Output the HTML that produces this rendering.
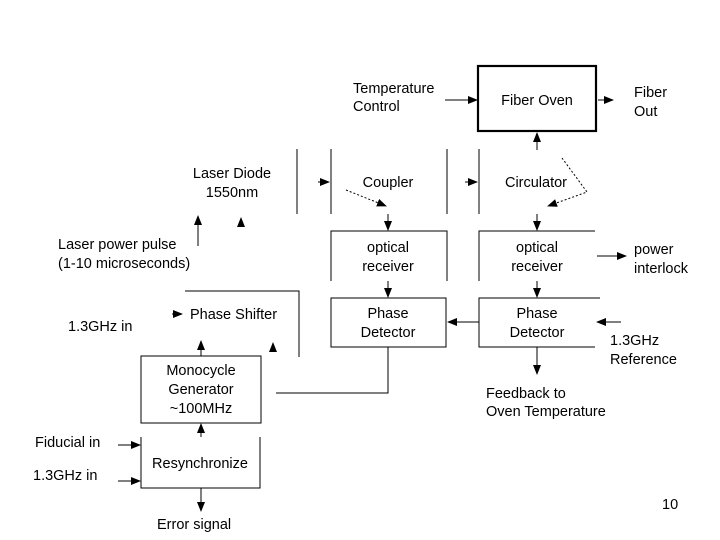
<!DOCTYPE html>
<html><head><style>body{margin:0;background:#fff}svg{display:block}text{font-family:"Liberation Sans",Arial,sans-serif;font-size:14.5px;fill:#000}</style></head>
<body>
<svg width="720" height="540" viewBox="0 0 720 540" xmlns="http://www.w3.org/2000/svg">
<defs><marker id="a" markerWidth="10" markerHeight="8" refX="9" refY="4" orient="auto" markerUnits="userSpaceOnUse"><path d="M0,0 L10,4 L0,8 z" fill="#000"/></marker></defs>
<g stroke="#000" stroke-width="1" fill="none">
<rect x="478" y="66" width="118" height="65" stroke-width="2.2"/>
<line x1="445" y1="100" x2="477" y2="100" marker-end="url(#a)"/>
<line x1="598" y1="100" x2="613" y2="100" marker-end="url(#a)"/>
<line x1="537" y1="150" x2="537" y2="133" marker-end="url(#a)"/>
<line x1="297" y1="149" x2="297" y2="214"/><line x1="331" y1="149" x2="331" y2="214"/>
<line x1="447" y1="149" x2="447" y2="214"/><line x1="479" y1="149" x2="479" y2="214"/>
<line x1="318" y1="182" x2="329" y2="182" marker-end="url(#a)"/>
<line x1="465" y1="182" x2="477" y2="182" marker-end="url(#a)"/>
<polyline points="346,190 386,206" stroke-dasharray="2,2" marker-end="url(#a)"/>
<polyline points="562,158 587,192 548,206" stroke-dasharray="2,2" marker-end="url(#a)"/>
<line x1="198" y1="246" x2="198" y2="216" marker-end="url(#a)"/>
<line x1="241" y1="226" x2="241" y2="218" marker-end="url(#a)"/>
<line x1="388" y1="214" x2="388" y2="230" marker-end="url(#a)"/>
<line x1="537" y1="214" x2="537" y2="230" marker-end="url(#a)"/>
<polyline points="331,281 331,231 447,231 447,281"/>
<polyline points="479,281 479,231 595,231"/>
<line x1="597" y1="256" x2="626" y2="256" marker-end="url(#a)"/>
<line x1="388" y1="281" x2="388" y2="297" marker-end="url(#a)"/>
<line x1="537" y1="281" x2="537" y2="297" marker-end="url(#a)"/>
<rect x="331" y="298" width="115" height="49"/>
<polyline points="600,298 479,298 479,347 595,347"/>
<line x1="479" y1="322" x2="448" y2="322" marker-end="url(#a)"/>
<line x1="621" y1="322" x2="597" y2="322" marker-end="url(#a)"/>
<line x1="537" y1="347" x2="537" y2="374" marker-end="url(#a)"/>
<polyline points="388,347 388,393 276,393"/>
<polyline points="185,291 299,291 299,357"/>
<line x1="172" y1="314" x2="182" y2="314" marker-end="url(#a)"/>
<line x1="273" y1="352" x2="273" y2="343" marker-end="url(#a)"/>
<rect x="141" y="356" width="120" height="67"/>
<line x1="201" y1="356" x2="201" y2="341" marker-end="url(#a)"/>
<line x1="201" y1="437" x2="201" y2="424" marker-end="url(#a)"/>
<polyline points="141,437 141,488 260,488 260,437"/>
<line x1="118" y1="445" x2="140" y2="445" marker-end="url(#a)"/>
<line x1="118" y1="481" x2="140" y2="481" marker-end="url(#a)"/>
<line x1="201" y1="488" x2="201" y2="511" marker-end="url(#a)"/>
</g>
<text x="353" y="93">Temperature</text><text x="353" y="111">Control</text>
<text x="537" y="105" text-anchor="middle">Fiber Oven</text>
<text x="634" y="97">Fiber</text><text x="634" y="116">Out</text>
<text x="232" y="178" text-anchor="middle">Laser Diode</text><text x="232" y="197" text-anchor="middle">1550nm</text>
<text x="388" y="187" text-anchor="middle">Coupler</text>
<text x="536" y="187" text-anchor="middle">Circulator</text>
<text x="58" y="249">Laser power pulse</text><text x="58" y="268">(1-10 microseconds)</text>
<text x="388" y="252" text-anchor="middle">optical</text><text x="388" y="271" text-anchor="middle">receiver</text>
<text x="537" y="252" text-anchor="middle">optical</text><text x="537" y="271" text-anchor="middle">receiver</text>
<text x="634" y="254">power</text><text x="634" y="273">interlock</text>
<text x="190" y="319">Phase Shifter</text>
<text x="68" y="331">1.3GHz in</text>
<text x="388" y="318" text-anchor="middle">Phase</text><text x="388" y="337" text-anchor="middle">Detector</text>
<text x="537" y="318" text-anchor="middle">Phase</text><text x="537" y="337" text-anchor="middle">Detector</text>
<text x="610" y="345">1.3GHz</text><text x="610" y="364">Reference</text>
<text x="201" y="375" text-anchor="middle">Monocycle</text><text x="201" y="394" text-anchor="middle">Generator</text><text x="201" y="413" text-anchor="middle">~100MHz</text>
<text x="486" y="398">Feedback to</text><text x="486" y="416">Oven Temperature</text>
<text x="35" y="447">Fiducial in</text>
<text x="200" y="468" text-anchor="middle">Resynchronize</text>
<text x="33" y="480">1.3GHz in</text>
<text x="157" y="529">Error signal</text>
<text x="662" y="509" font-size="13">10</text>
</svg>
</body></html>
